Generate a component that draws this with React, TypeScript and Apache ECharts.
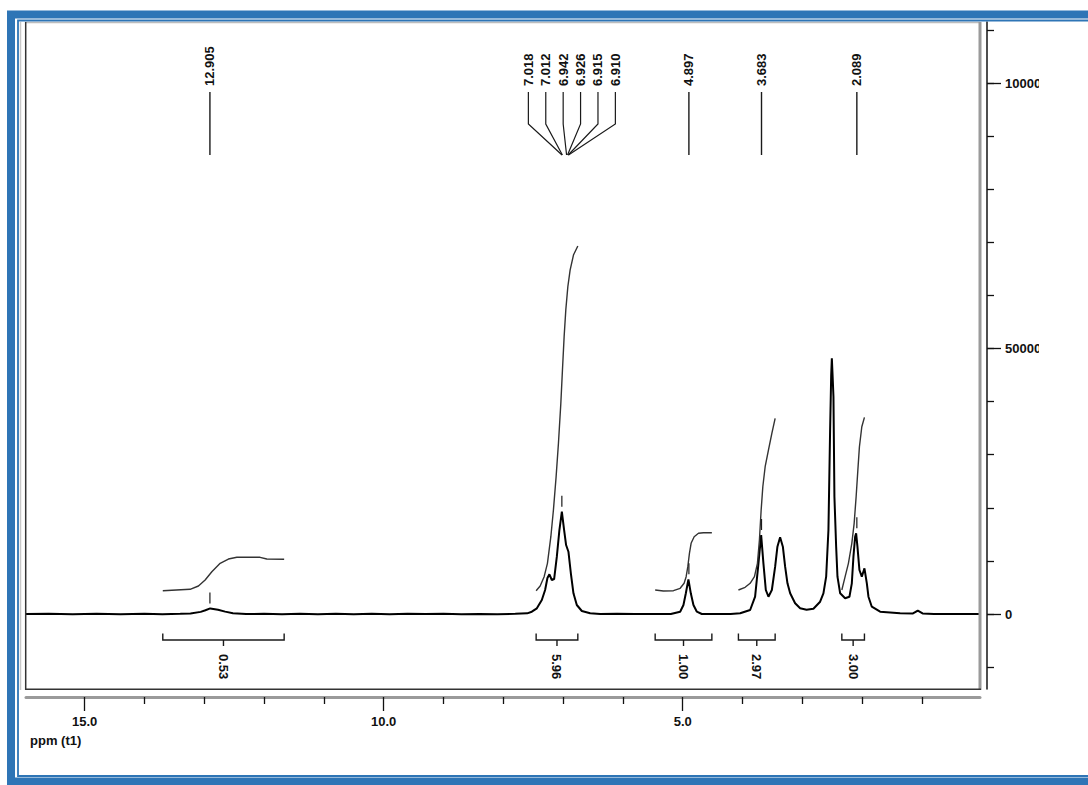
import React, { useEffect, useRef } from "react";
import * as echarts from "echarts";

// ---- Data ----
// Spectrum: [ppm, intensity]
const SPECTRUM: [number, number][] = [
  [15.98, 0], [15.6, 60], [15.2, -40], [14.8, 50], [14.4, -30], [14.0, 40], [13.7, -30], [13.4, 40],
  [13.23, 100], [13.06, 400], [12.98, 700], [12.9, 1050], [12.77, 800], [12.65, 450], [12.52, 150],
  [12.3, -20], [12.0, 40], [11.7, -30], [11.4, 50], [11.1, -40], [10.8, 30], [10.5, -50], [10.2, 40],
  [9.9, -30], [9.6, 50], [9.3, -20], [9.0, 40], [8.7, -40], [8.4, 20], [8.1, -30], [7.8, 30], [7.6, 120],
  [7.523, 433], [7.439, 1073], [7.356, 2636], [7.301, 4519], [7.262, 6779], [7.229, 7475], [7.189, 6402],
  [7.15, 6590], [7.105, 10790], [7.062, 15817], [7.021, 19263], [6.983, 15817], [6.95, 12993], [6.911, 11731],
  [6.871, 7720], [6.827, 3898], [6.771, 1695], [6.687, 565], [6.548, 132], [6.38, 0], [6.1, 30], [5.8, -20],
  [5.5, 20], [5.2, 0], [5.043, 433], [4.988, 1695], [4.948, 3898], [4.905, 6534], [4.865, 3898], [4.821, 1695],
  [4.764, 433], [4.681, 0], [4.4, -20], [4.2, 20], [4.04, 130], [3.873, 753], [3.79, 3258], [3.734, 9547],
  [3.689, 14876], [3.651, 9547], [3.611, 4519], [3.567, 3258], [3.51, 4519], [3.455, 8907], [3.417, 12673],
  [3.372, 14443], [3.326, 12673], [3.288, 8907], [3.249, 5781], [3.204, 3898], [3.121, 2015], [3.037, 1073],
  [2.93, 800], [2.815, 1000], [2.703, 2316], [2.648, 3898], [2.602, 7024], [2.564, 15817], [2.536, 34647],
  [2.518, 45000], [2.507, 48148], [2.495, 45000], [2.48, 40918], [2.464, 22087], [2.435, 12673], [2.413, 7024],
  [2.368, 3898], [2.285, 2956], [2.213, 3258], [2.173, 5781], [2.146, 10790], [2.118, 14556], [2.101, 15196],
  [2.079, 12673], [2.046, 8285], [2.006, 7024], [1.962, 8605], [1.922, 5781], [1.895, 3258], [1.839, 1375],
  [1.7, 433], [1.366, 132], [1.15, 100], [1.07, 650], [0.99, 100], [0.8, 0], [0.5, 20], [0.2, -20], [0.03, 0],
];

// Integral curves: [ppm, intensity-scale value]
const INTEGRAL_1: [number, number][] = [
  [13.693, 4387], [13.237, 4651], [13.097, 5272], [12.985, 6402], [12.873, 7965], [12.734, 9547],
  [12.596, 10357], [12.455, 10677], [12.066, 10677], [11.954, 10357], [11.664, 10300],
];
const INTEGRAL_2: [number, number][] = [
  [7.451, 4387], [7.384, 5272], [7.317, 7024], [7.262, 9547], [7.205, 14556], [7.162, 19583], [7.117, 25854],
  [7.078, 32143], [7.038, 39675], [7.011, 45945], [6.983, 52216], [6.955, 57243], [6.921, 61631],
  [6.883, 64775], [6.827, 67600], [6.754, 69294],
];
const INTEGRAL_3: [number, number][] = [
  [5.461, 4519], [5.323, 4331], [5.155, 4387], [5.043, 4839], [4.977, 5781], [4.943, 7024], [4.915, 8907],
  [4.888, 11430], [4.86, 13313], [4.809, 14556], [4.737, 15196], [4.654, 15311], [4.513, 15311],
];
const INTEGRAL_4: [number, number][] = [
  [4.069, 4519], [3.957, 5028], [3.873, 5781], [3.801, 7024], [3.751, 9547], [3.718, 13934], [3.689, 19583],
  [3.661, 23970], [3.622, 27736], [3.567, 30881], [3.51, 34026], [3.455, 36851],
];
const INTEGRAL_5: [number, number][] = [
  [2.34, 4519], [2.285, 7024], [2.23, 9547], [2.173, 13313], [2.134, 17079], [2.101, 22087], [2.072, 27115],
  [2.046, 31503], [2.006, 35269], [1.962, 37039],
];
const INTEGRALS = [INTEGRAL_1, INTEGRAL_2, INTEGRAL_3, INTEGRAL_4, INTEGRAL_5];
const INTEGRAL_LABELS = ["0.53", "5.96", "1.00", "2.97", "3.00"];

// Peak picks (groups)
const PEAK_GROUPS: string[][] = [
  ["12.905"],
  ["7.018", "7.012", "6.942", "6.926", "6.915", "6.910"],
  ["4.897"],
  ["3.683"],
  ["2.089"],
];

// Axis ticks
const X_MAJOR_TICKS = [5, 10, 15];
const X_MINOR_TICKS = [1, 2, 3, 4, 6, 7, 8, 9, 11, 12, 13, 14];
const Y_MAJOR_TICKS = [0, 50000, 100000];
const Y_MINOR_TICKS = [-10000, 0, 10000, 20000, 30000, 40000, 50000, 60000, 70000, 80000, 90000, 100000, 110000];

const X_MIN = 0.03;
const X_MAX = 15.98;
const Y_MIN = -14124;
const Y_MAX = 111488;

const FONT = "'Liberation Sans', Arial, sans-serif";
const BLUE = "#2E75B6";

export default function App() {
  const ref = useRef<HTMLDivElement>(null);

  useEffect(() => {
    if (!ref.current) return;
    const chart = echarts.init(ref.current, undefined, { renderer: "svg" });

    const lineSeries = (data: [number, number][], color: string, width: number) => ({
      type: "line",
      data,
      xAxisIndex: 0,
      yAxisIndex: 0,
      showSymbol: false,
      symbol: "none",
      silent: true,
      lineStyle: { color, width },
    });

    const option: any = {
      animation: false,
      grid: { left: 26, top: 22, width: 954, height: 667, show: false },
      xAxis: [
        {
          type: "value",
          min: X_MIN,
          max: X_MAX,
          inverse: true,
          position: "bottom",
          offset: 8,
          axisLine: { show: true, onZero: false, lineStyle: { color: "#9a9a9a", width: 3 } },
          axisTick: { show: true, customValues: X_MAJOR_TICKS, length: 14, lineStyle: { color: "#111", width: 1.3 } },
          axisLabel: {
            customValues: X_MAJOR_TICKS,
            formatter: (v: number) => v.toFixed(1),
            margin: 18,
            fontSize: 13,
            fontWeight: "bold",
            color: "#111",
            fontFamily: FONT,
          },
          splitLine: { show: false },
        },
        {
          type: "value",
          min: X_MIN,
          max: X_MAX,
          inverse: true,
          position: "bottom",
          offset: 8,
          axisLine: { show: false, onZero: false },
          axisTick: { show: true, customValues: X_MINOR_TICKS, length: 7, lineStyle: { color: "#111", width: 1.3 } },
          axisLabel: { show: false },
          splitLine: { show: false },
        },
      ],
      yAxis: [
        {
          type: "value",
          min: Y_MIN,
          max: Y_MAX,
          position: "right",
          offset: 7,
          axisLine: { show: true, onZero: false, lineStyle: { color: "#222", width: 1.6 } },
          axisTick: { show: true, customValues: Y_MAJOR_TICKS, length: 14, lineStyle: { color: "#111", width: 1.3 } },
          axisLabel: {
            customValues: Y_MAJOR_TICKS,
            formatter: (v: number) => String(v),
            margin: 18,
            fontSize: 13,
            fontWeight: "bold",
            color: "#111",
            fontFamily: FONT,
          },
          splitLine: { show: false },
        },
        {
          type: "value",
          min: Y_MIN,
          max: Y_MAX,
          position: "right",
          offset: 7,
          axisLine: { show: false, onZero: false },
          axisTick: { show: true, customValues: Y_MINOR_TICKS, length: 7, lineStyle: { color: "#111", width: 1.3 } },
          axisLabel: { show: false },
          splitLine: { show: false },
        },
      ],
      series: [
        lineSeries(SPECTRUM, "#000", 2),
        ...INTEGRALS.map((d) => lineSeries(d, "#333", 1.4)),
      ],
    };
    chart.setOption(option);

    const px = (ppm: number) => chart.convertToPixel({ xAxisIndex: 0 }, ppm) as number;
    const py = (v: number) => chart.convertToPixel({ yAxisIndex: 0 }, v) as number;
    const localMax = (ppm: number) => {
      let m = 0;
      SPECTRUM.forEach(([p, v]) => {
        if (Math.abs(p - ppm) < 0.07 && v > m) m = v;
      });
      return m;
    };

    const g: any[] = [];
    const dark = "#1a1a1a";
    const textStyle = (text: string, valign: string) => ({
      text, x: 0, y: 0, align: "left", verticalAlign: valign, fontSize: 13, fontWeight: "bold", fontFamily: FONT, fill: "#111",
    });

    // Blue frame
    g.push({ type: "rect", z: 50, shape: { x: 11, y: 14.5, width: 1200, height: 767 }, style: { fill: "none", stroke: BLUE, lineWidth: 8 } });
    g.push({ type: "rect", z: 50, shape: { x: 18, y: 20.5, width: 1200, height: 755.5 }, style: { fill: "none", stroke: BLUE, lineWidth: 1.8 } });
    g.push({ type: "line", z: 40, shape: { x1: 20.5, y1: 22, x2: 20.5, y2: 690 }, style: { stroke: "#c8c8c8", lineWidth: 1.5 } });

    // Plot box
    g.push({ type: "line", z: 40, shape: { x1: 25, y1: 22.5, x2: 980, y2: 22.5 }, style: { stroke: "#bdbdbd", lineWidth: 1.5 } });
    g.push({ type: "line", z: 40, shape: { x1: 980, y1: 22, x2: 980, y2: 690 }, style: { stroke: "#9a9a9a", lineWidth: 3 } });
    g.push({ type: "line", z: 40, shape: { x1: 25.7, y1: 22, x2: 25.7, y2: 690 }, style: { stroke: "#333", lineWidth: 1.5 } });
    g.push({ type: "line", z: 40, shape: { x1: 25, y1: 689.3, x2: 981, y2: 689.3 }, style: { stroke: "#333", lineWidth: 1.5 } });

    // Peak labels
    PEAK_GROUPS.forEach((grp) => {
      const xs = grp.map((s) => px(parseFloat(s)));
      const labelText = (x: number, s: string) =>
        g.push({ type: "text", z: 60, x, y: 86, rotation: Math.PI / 2, style: textStyle(s, "middle") });
      if (grp.length === 1) {
        g.push({ type: "line", z: 60, shape: { x1: xs[0], y1: 92, x2: xs[0], y2: 155 }, style: { stroke: dark, lineWidth: 1.4 } });
        labelText(xs[0], grp[0]);
      } else {
        const mean = xs.reduce((a, b) => a + b, 0) / xs.length;
        const spacing = 17.4;
        grp.forEach((s, i) => {
          const lx = mean + 6 + (i - (grp.length - 1) / 2) * spacing;
          g.push({
            type: "polyline", z: 60,
            shape: { points: [[lx, 92], [lx, 124], [xs[i], 155]] },
            style: { stroke: dark, lineWidth: 1.2, fill: "none" },
          });
          labelText(lx, s);
        });
      }
      // peak pick marker above the highest point of the group
      const top = Math.max(...grp.map((s) => localMax(parseFloat(s))));
      const mx = grp.length === 1 ? xs[0] : px(SPECTRUM.filter(([p]) => Math.abs(p - parseFloat(grp[0])) < 0.15).reduce((a, b) => (b[1] > a[1] ? b : a))[0]);
      const yTop = py(top);
      g.push({ type: "line", z: 60, shape: { x1: mx, y1: yTop - 16, x2: mx, y2: yTop - 5 }, style: { stroke: dark, lineWidth: 1.2 } });
    });

    // Integral brackets and values
    INTEGRALS.forEach((d, i) => {
      const x1 = px(d[0][0]);
      const x2 = px(d[d.length - 1][0]);
      const cx = (x1 + x2) / 2;
      g.push({
        type: "polyline", z: 60,
        shape: { points: [[x1, 633.5], [x1, 640], [x2, 640], [x2, 633.5]] },
        style: { stroke: dark, lineWidth: 1.4, fill: "none" },
      });
      g.push({ type: "line", z: 60, shape: { x1: cx, y1: 640, x2: cx, y2: 646 }, style: { stroke: dark, lineWidth: 1.4 } });
      g.push({ type: "text", z: 60, x: cx, y: 654, rotation: -Math.PI / 2, style: textStyle(INTEGRAL_LABELS[i], "middle") });
    });

    // Axis title
    g.push({ type: "text", z: 60, x: 30, y: 734, style: textStyle("ppm (t1)", "top") });

    // Clip of the right tick labels (as in the original export)
    g.push({ type: "rect", z: 55, shape: { x: 1039, y: 60, width: 60, height: 320 }, style: { fill: "#fff" } });

    chart.setOption({ graphic: g });

    return () => chart.dispose();
  }, []);

  return (
    <div
      ref={ref}
      style={{ position: "absolute", left: 0, top: 0, width: 1088, height: 785, background: "#fff" }}
    />
  );
}
